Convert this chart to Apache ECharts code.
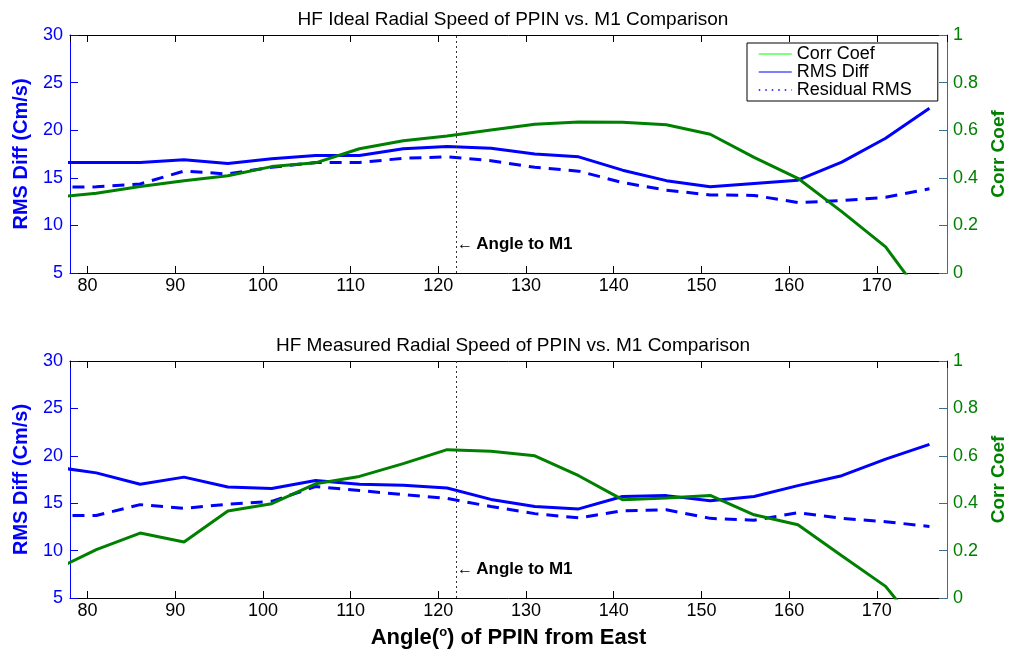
<!DOCTYPE html>
<html><head><meta charset="utf-8">
<script src="https://cdn.jsdelivr.net/npm/echarts@6/dist/echarts.min.js"></script>
<style>html,body{margin:0;padding:0;background:#fff}#c{width:1011px;height:652px}</style>
</head><body><div id="c"></div>
<script>
const angles = [76, 81, 86, 91, 96, 101, 106, 111, 116, 121, 126, 131, 136, 141, 146, 151, 156, 161, 166, 171, 176];
const topRms = [16.6, 16.6, 16.6, 16.9, 16.5, 17.0, 17.35, 17.35, 18.05, 18.3, 18.1, 17.5, 17.2, 15.8, 14.7, 14.05, 14.4, 14.75, 16.65, 19.15, 22.3];
const topResid = [14.0, 14.05, 14.35, 15.7, 15.4, 16.1, 16.6, 16.6, 17.05, 17.2, 16.8, 16.1, 15.7, 14.5, 13.7, 13.2, 13.15, 12.4, 12.6, 12.95, 13.85];
const topCorr = [0.318, 0.335, 0.363, 0.388, 0.409, 0.447, 0.463, 0.522, 0.556, 0.576, 0.601, 0.625, 0.634, 0.633, 0.623, 0.583, 0.486, 0.398, 0.258, 0.11, -0.14];
const botRms = [18.85, 18.2, 17.0, 17.75, 16.7, 16.55, 17.4, 17.0, 16.9, 16.6, 15.4, 14.65, 14.4, 15.7, 15.8, 15.25, 15.7, 16.85, 17.9, 19.65, 21.2];
const botResid = [13.7, 13.7, 14.85, 14.45, 14.9, 15.2, 16.75, 16.35, 15.9, 15.5, 14.65, 13.9, 13.45, 14.2, 14.3, 13.4, 13.2, 14.0, 13.4, 13.05, 12.55];
const botCorr = [0.114, 0.204, 0.274, 0.236, 0.367, 0.398, 0.482, 0.513, 0.567, 0.626, 0.619, 0.6, 0.516, 0.415, 0.422, 0.433, 0.351, 0.309, 0.178, 0.049, -0.18];
const m1Angle = 122;
const titles = ['HF Ideal Radial Speed of PPIN vs. M1 Comparison', 'HF Measured Radial Speed of PPIN vs. M1 Comparison'];

const FONT = '"Liberation Sans", Arial, Helvetica, sans-serif';
const BLUE = '#0000ff', GREEN = '#008000', RAXIS = '#3a6e8c';
const zip = (xs, ys) => xs.map((x, i) => [x, ys[i]]);

function xAxes(g, withName) {
  const base = {
    type: 'value', gridIndex: g, min: 78, max: 178, splitNumber: 10,
    axisLine: { show: true, onZero: false, lineStyle: { color: '#000', width: 1 } },
    axisTick: { show: true, inside: true, length: 7, lineStyle: { color: '#000' } },
    splitLine: { show: false }
  };
  return [
    Object.assign({}, base, {
      position: 'bottom',
      axisLabel: { color: '#000', fontSize: 18, fontFamily: FONT, margin: 4, showMinLabel: false, showMaxLabel: false },
      name: withName ? 'Angle({sup|o}) of PPIN from East' : '',
      nameLocation: 'middle', nameGap: 28,
      nameTextStyle: { color: '#000', fontSize: 22, fontWeight: 'bold', fontFamily: FONT,
        rich: { sup: { fontSize: 13, fontWeight: 'bold', fontFamily: FONT, padding: [0, 0, 10, 0] } } }
    }),
    Object.assign({}, base, { position: 'top', axisLabel: { show: false } })
  ];
}
function yAxes(g) {
  return [
    { type: 'value', gridIndex: g, position: 'left', min: 5, max: 30, interval: 5,
      axisLine: { show: true, lineStyle: { color: BLUE, width: 1 } },
      axisTick: { show: true, inside: true, length: 8, lineStyle: { color: BLUE } },
      axisLabel: { color: BLUE, fontSize: 18, fontFamily: FONT, margin: 7 },
      splitLine: { show: false },
      name: 'RMS Diff (Cm/s)', nameLocation: 'middle', nameGap: 39, nameRotate: 90,
      nameTextStyle: { color: BLUE, fontSize: 20, fontWeight: 'bold', fontFamily: FONT } },
    { type: 'value', gridIndex: g, position: 'right', min: 0, max: 1, interval: 0.2,
      axisLine: { show: true, lineStyle: { color: RAXIS, width: 1 } },
      axisTick: { show: true, inside: true, length: 8, lineStyle: { color: RAXIS } },
      axisLabel: { color: GREEN, fontSize: 18, fontFamily: FONT, margin: 6 },
      splitLine: { show: false },
      name: 'Corr Coef', nameLocation: 'middle', nameGap: 41, nameRotate: 90,
      nameTextStyle: { color: GREEN, fontSize: 19, fontWeight: 'bold', fontFamily: FONT } }
  ];
}
function seriesFor(g, rms, resid, corr) {
  return [
    { name: 'RMS Diff', type: 'line', xAxisIndex: 2 * g, yAxisIndex: 2 * g, data: zip(angles, rms),
      symbol: 'none', color: BLUE, lineStyle: { color: BLUE, width: 3 }, z: 3,
      markLine: { silent: true, symbol: 'none', data: [{ xAxis: m1Angle }],
        lineStyle: { color: '#333', type: [2, 3], width: 1 }, label: { show: false } },
      markPoint: { silent: true, symbol: 'circle', symbolSize: 0, data: [{ coord: [m1Angle, 8] }],
        label: { show: true, position: 'right', distance: 1, formatter: '{a|\u2190} {b|Angle to M1}',
          rich: { a: { fontSize: 16, color: '#000', fontFamily: FONT }, b: { fontSize: 17, fontWeight: 'bold', color: '#000', fontFamily: FONT } } } } },
    { name: 'Residual RMS', type: 'line', xAxisIndex: 2 * g, yAxisIndex: 2 * g, data: zip(angles, resid),
      symbol: 'none', color: BLUE, lineStyle: { color: BLUE, width: 3, type: [12, 8] }, z: 3 },
    { name: 'Corr Coef', type: 'line', xAxisIndex: 2 * g, yAxisIndex: 2 * g + 1, data: zip(angles, corr),
      symbol: 'none', color: GREEN, lineStyle: { color: GREEN, width: 3 }, z: 4 }
  ];
}

const chart = echarts.init(document.getElementById('c'), null, { renderer: 'canvas' });
const clear = 'rgba(0,0,0,0)';
chart.setOption({
  backgroundColor: '#fff',
  animation: false,
  textStyle: { fontFamily: FONT },
  title: [
    { text: titles[0], left: 508, textAlign: 'center', top: 5, textStyle: { fontSize: 19, fontWeight: 'normal', color: '#000', fontFamily: FONT } },
    { text: titles[1], left: 508, textAlign: 'center', top: 331, textStyle: { fontSize: 19, fontWeight: 'normal', color: '#000', fontFamily: FONT } }
  ],
  legend: {
    show: true, orient: 'vertical', left: 747, top: 43, padding: [2, 26, 2, 11], itemGap: 0,
    itemWidth: 33, itemHeight: 14, borderColor: '#000', borderWidth: 1, backgroundColor: '#fff',
    textStyle: { fontSize: 18, color: '#000', fontFamily: FONT },
    selectedMode: false,
    data: [
      { name: 'Corr Coef', itemStyle: { color: clear, borderWidth: 0 }, lineStyle: { color: '#00ff00', width: 1 } },
      { name: 'RMS Diff', itemStyle: { color: clear, borderWidth: 0 }, lineStyle: { color: BLUE, width: 1 } },
      { name: 'Residual RMS', itemStyle: { color: clear, borderWidth: 0 }, lineStyle: { color: BLUE, width: 1.5, type: [1.5, 5] } }
    ]
  },
  grid: [
    { left: 70, top: 35, width: 877, height: 238, containLabel: false, outerBoundsMode: 'none' },
    { left: 70, top: 361, width: 877, height: 237, containLabel: false, outerBoundsMode: 'none' }
  ],
  xAxis: [].concat(xAxes(0, false), xAxes(1, true)),
  yAxis: [].concat(yAxes(0), yAxes(1)),
  series: [].concat(seriesFor(0, topRms, topResid, topCorr), seriesFor(1, botRms, botResid, botCorr))
});
</script></body></html>
